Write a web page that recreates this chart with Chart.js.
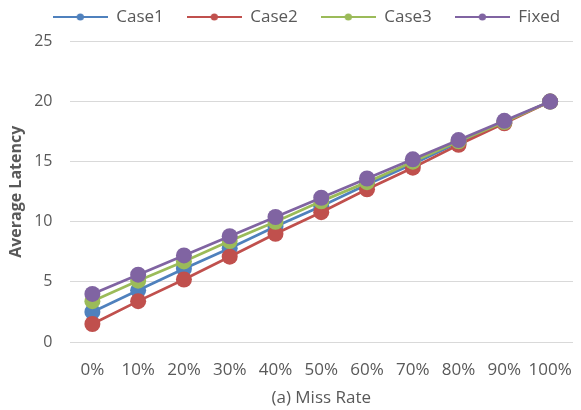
<!DOCTYPE html>
<html>
<head>
<meta charset="utf-8">
<script src="https://cdn.jsdelivr.net/npm/chart.js@4/dist/chart.umd.min.js"></script>
<style>
  html, body { margin: 0; padding: 0; background: #fff; }
  #wrap { width: 581px; height: 410px; position: relative; }
</style>
</head>
<body>
<div id="wrap"><canvas id="c" width="581" height="410"></canvas></div>
<script>
const categories = ['0%', '10%', '20%', '30%', '40%', '50%', '60%', '70%', '80%', '90%', '100%'];
const case1 = [2.5, 4.3, 6.1, 7.8, 9.6, 11.3, 13.1, 14.8, 16.6, 18.3, 20];
const case2 = [1.5, 3.4, 5.2, 7.1, 9.0, 10.8, 12.7, 14.5, 16.4, 18.2, 20];
const case3 = [3.4, 5.1, 6.7, 8.4, 10.0, 11.7, 13.3, 15.0, 16.7, 18.3, 20];
const fixed = [4.0, 5.6, 7.2, 8.8, 10.4, 12.0, 13.6, 15.2, 16.8, 18.4, 20];
const seriesNames = ['Case1', 'Case2', 'Case3', 'Fixed'];
const seriesColors = ['#4F81BD', '#C0504D', '#9BBB59', '#8064A2'];
const yTicks = [0, 5, 10, 15, 20, 25];

const FONT = '"Open Sans", "Liberation Sans", sans-serif';
const TEXT = '#595959';
const MARKER_W = 55;

// legend marker: short line with a dot in the middle
function legendMarker(color) {
  const cv = document.createElement('canvas');
  cv.width = MARKER_W; cv.height = 10;
  const g = cv.getContext('2d');
  g.strokeStyle = color; g.lineWidth = 2;
  g.beginPath(); g.moveTo(0, 5); g.lineTo(MARKER_W, 5); g.stroke();
  g.fillStyle = color;
  g.beginPath(); g.arc(MARKER_W / 2, 5, 3.6, 0, Math.PI * 2); g.fill();
  return cv;
}

// keep the legend row compact and place it above the plot
const legendNudge = {
  id: 'legendNudge',
  beforeLayout(chart) {
    const l = chart.legend;
    if (!l || l._compact) return;
    const fit = l.fit.bind(l);
    l.fit = function () { fit(); this.height = 30; };
    l._compact = true;
  },
  afterLayout(chart) {
    const l = chart.legend;
    if (!l) return;
    const dx = 16, dy = -26;
    l.left += dx; l.right += dx;
    l.top += dy;
  }
};

const values = [case1, case2, case3, fixed];
const datasets = values.map((v, i) => ({
  label: seriesNames[i],
  data: v,
  borderColor: seriesColors[i],
  backgroundColor: seriesColors[i],
  borderWidth: 2.75,
  pointRadius: 8,
  pointHoverRadius: 8,
  pointBorderWidth: 0,
  tension: 0,
  order: values.length - i   // later series are painted over earlier ones
}));

new Chart(document.getElementById('c'), {
  type: 'line',
  data: { labels: categories, datasets },
  plugins: [legendNudge],
  options: {
    responsive: false,
    animation: false,
    layout: { padding: 0 },
    plugins: {
      tooltip: { enabled: false },
      legend: {
        position: 'top',
        align: 'center',
        labels: {
          usePointStyle: true,
          pointStyleWidth: MARKER_W,
          color: TEXT,
          font: { family: FONT, size: 17 },
          padding: 23,
          generateLabels(chart) {
            return chart.data.datasets.map((d, i) => ({
              text: d.label,
              pointStyle: legendMarker(d.borderColor),
              fillStyle: d.borderColor,
              strokeStyle: d.borderColor,
              lineWidth: 0,
              fontColor: TEXT,
              datasetIndex: i,
              hidden: false
            }));
          }
        }
      }
    },
    scales: {
      x: {
        offset: true,
        grid: { display: false },
        border: { display: false },
        ticks: { color: TEXT, font: { family: FONT, size: 17 }, padding: 10, maxRotation: 0, autoSkip: false },
        title: { display: true, text: '(a) Miss Rate', color: TEXT, font: { family: FONT, size: 17 }, padding: { top: 0, bottom: 2 } },
        afterFit(scale) { scale.height = 68; scale.paddingLeft = 0; scale.paddingRight = 0; }
      },
      y: {
        min: 0, max: 25,
        afterBuildTicks(scale) { scale.ticks = yTicks.map(v => ({ value: v })); },
        ticks: { color: TEXT, font: { family: FONT, size: 16 }, padding: 17 },
        grid: { color: '#D9D9D9', lineWidth: 1, drawTicks: false },
        border: { display: false },
        title: { display: true, text: 'Average Latency', color: TEXT, font: { family: FONT, size: 16, weight: 'bold' }, padding: { top: 7, bottom: 0 } },
        afterFit(scale) { scale.width = 69.5; scale.paddingTop = 41.5; }
      }
    }
  }
});
</script>
</body>
</html>
